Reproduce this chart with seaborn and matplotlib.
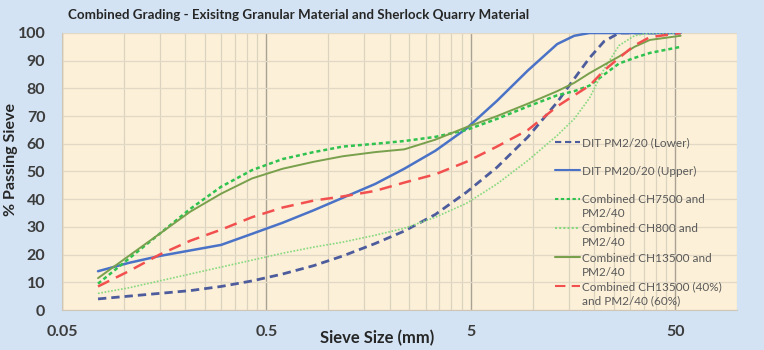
import pandas as pd
import matplotlib
matplotlib.use("Agg")
import matplotlib.pyplot as plt
import matplotlib.ticker as mticker
from matplotlib.legend import Legend
import seaborn as sns

# sieve sizes (mm) and % passing for each grading curve
sizes = [0.075, 0.106, 0.15, 0.212, 0.3, 0.425, 0.6, 0.85, 1.18, 1.7, 2.36, 3.35,
         4.75, 6.7, 9.5, 13.2, 16, 19, 22.4, 26.5, 31.5, 37.5, 53]
lower = [4, 5, 6, 7, 8.5, 10.5, 13, 16, 19.5, 24, 28.5, 34.5,
         42.5, 51.5, 62.5, 75, 83.5, 91, 97, 100, 100, 100, 100]
upper = [14, 17, 19.5, 21.5, 23.5, 27.5, 31.5, 36, 40.5, 45.5, 51, 57.5,
         65.5, 75.5, 86.5, 96, 99, 100, 100, 100, 100, 100, 100]
ch7500 = [9.5, 18.5, 27.5, 36.5, 44.5, 50.5, 54.5, 57, 59, 60, 61, 62.5,
          65, 69, 73.5, 77.5, 79, 81, 85, 89, 91, 92.8, 95]
ch800 = [6, 8, 10.5, 13, 15.5, 18, 20.5, 22.7, 24.5, 27, 29.5, 33.5,
         38.5, 45.5, 54, 63, 69, 76.5, 87, 95.5, 99, 100, 100]
ch13500 = [11.5, 19.5, 27.5, 35.5, 42, 47.5, 51, 53.5, 55.5, 57, 58, 61.5,
           66, 70, 74.5, 79, 82, 85.5, 88.5, 91.5, 95, 97.5, 99]
mix = [8.5, 14, 20, 25, 29, 33.5, 37, 39.5, 41, 43, 46, 49,
       53.5, 59, 65, 73.5, 77.5, 81, 86.5, 91, 95.5, 98.5, 100]

names = ["DIT PM2/20 (Lower)",
         "DIT PM20/20 (Upper)",
         "Combined CH7500 and\nPM2/40",
         "Combined CH800 and\nPM2/40",
         "Combined CH13500 and\nPM2/40",
         "Combined CH13500 (40%)\nand PM2/40 (60%)"]
series = [lower, upper, ch7500, ch800, ch13500, mix]

df = pd.concat([pd.DataFrame({"size": sizes, "passing": s, "curve": n})
                for n, s in zip(names, series)], ignore_index=True)

palette = dict(zip(names, ["#4d5c9c", "#4a72c6", "#2fc24f", "#86d97e", "#79a04c", "#f2504f"]))
dashes = dict(zip(names, [(3, 1.8), "", (1.6, 1.2), (1, 1), "", (5, 3)]))
widths = dict(zip(names, [2.0, 1.8, 1.8, 1.2, 1.4, 1.8]))

sns.set_style("white")
plt.rcParams["font.family"] = ["Lato", "DejaVu Sans"]

fig = plt.figure(figsize=(7.64, 3.5), dpi=100)
fig.patch.set_facecolor("#d3e3f3")
ax = fig.add_axes([62 / 764, 1 - 310 / 350, 675 / 764, 277 / 350])
ax.set_facecolor("#fcf0d8")

sns.lineplot(data=df, x="size", y="passing", hue="curve", style="curve",
             hue_order=names, style_order=names, palette=palette,
             dashes=dashes, ax=ax, sort=True, legend=True)
for line, n in zip(ax.lines, names):
    line.set_linewidth(widths[n])

ax.set_xscale("log")
ax.set_xlim(0.05, 100)
ax.set_ylim(0, 100)

major = [0.05, 0.5, 5, 50]
minor = [k * m for m in [0.05, 0.5, 5, 50] for k in range(2, 10)]
ax.xaxis.set_major_locator(mticker.FixedLocator(major))
ax.xaxis.set_minor_locator(mticker.FixedLocator(minor))
ax.xaxis.set_major_formatter(mticker.FixedFormatter(["0.05", "0.5", "5", "50"]))
ax.xaxis.set_minor_formatter(mticker.NullFormatter())
ax.yaxis.set_major_locator(mticker.MultipleLocator(10))

ax.grid(True, which="major", axis="x", color="#a9a294", lw=1.0)
ax.grid(True, which="minor", axis="x", color="#dcd2c0", lw=0.9)
ax.grid(True, which="major", axis="y", color="#e2d8c6", lw=0.9)
ax.set_axisbelow(True)

ax.tick_params(axis="both", which="both", length=0, labelsize=11.5, labelcolor="#3c3c3c")
ax.tick_params(axis="y", pad=12)
ax.tick_params(axis="x", pad=11)
for lab in ax.get_xticklabels() + ax.get_yticklabels():
    lab.set_fontweight("bold")

for side in ["top", "right"]:
    ax.spines[side].set_visible(False)
ax.spines["left"].set_color("#cfc6b5")
ax.spines["bottom"].set_color("#cfc6b5")

ax.set_xlabel("")
ax.set_ylabel("")
fig.text(377 / 764, 1 - 338 / 350, "Sieve Size (mm)", ha="center", va="center",
         fontsize=12, fontweight="bold", color="#262626")
fig.text(11 / 764, 1 - 160 / 350, "% Passing Sieve", ha="center", va="center",
         rotation=90, fontsize=11.5, fontweight="bold", color="#262626")
fig.text(68 / 764, 1 - 15 / 350,
         "Combined Grading - Exisitng Granular Material and Sherlock Quarry Material",
         ha="left", va="center", fontsize=9.6, fontweight="bold", color="#262626")

# legend: one entry per row, handle level with the first text line
handles, labels = ax.get_legend_handles_labels()
ax.get_legend().remove()
row_px = [143, 171, 200, 229, 258, 287]
x_leg = (555 - 62) / 675
x_txt = (582 - 62) / 675
for h, lab, py in zip(handles, labels, row_px):
    first, _, second = lab.partition("\n")
    y = (310 - py) / 277
    leg = Legend(ax, [h], [first], loc="center left", bbox_to_anchor=(x_leg, y),
                 frameon=False, fontsize=8.5, handlelength=2.1, handletextpad=0.15,
                 borderpad=0, borderaxespad=0)
    leg.get_texts()[0].set_color("#595959")
    ax.add_artist(leg)
    if second:
        ax.text(x_txt, (310 - py - 14) / 277, second, transform=ax.transAxes,
                ha="left", va="center", fontsize=8.5, color="#595959")

fig.savefig("out.png", dpi=100, facecolor=fig.get_facecolor())
